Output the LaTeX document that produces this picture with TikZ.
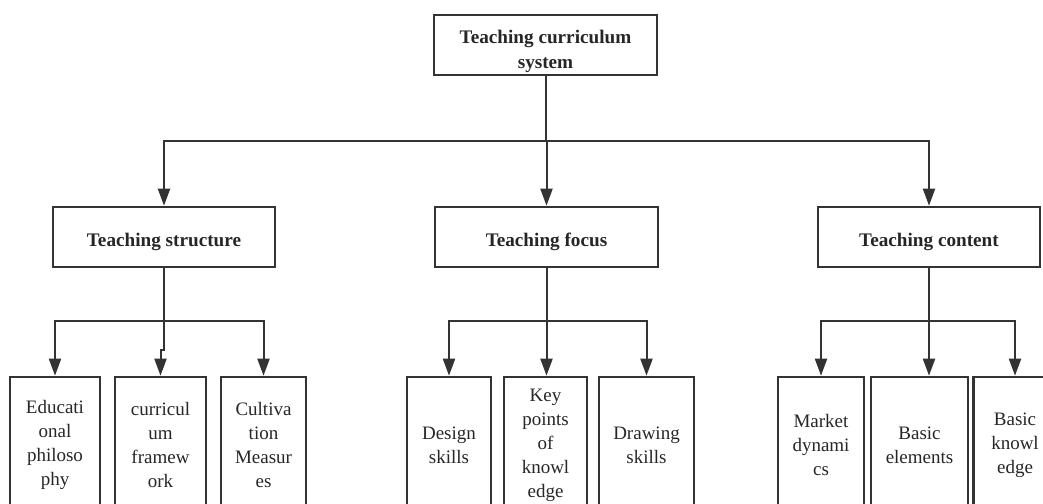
\documentclass[tikz,border=0pt]{standalone}
\usepackage{fontspec}
\setmainfont{Liberation Serif}
\usetikzlibrary{arrows.meta}
\definecolor{treeink}{HTML}{333333}
\definecolor{treetext}{HTML}{262626}
\tikzset{
  treebox/.style={draw=treeink, line width=1.3pt, align=center, inner sep=0pt,
    text=treetext, font=\fontsize{9.5}{12}\selectfont},
  headbox/.style={treebox, font=\fontsize{9.6}{12.4}\selectfont\bfseries,
    minimum height=30pt, text height=9.5pt, text depth=0pt},
  leafbox/.style={treebox, minimum height=68pt},
  treelink/.style={draw=treeink, line width=1pt,
    -{Triangle[length=8.5pt, width=6pt]}},
}

\begin{document}
\begin{tikzpicture}[x=0.5pt, y=0.5pt]
\useasboundingbox (0,0) rectangle (1043,503);
\clip (0,0) rectangle (1043,503);
% Root and the three branches of the curriculum system.
\node[headbox, minimum width=111.5pt, text height=23.8pt] (sys)
  at (545.5,458) {Teaching curriculum\\system};
\node[headbox, minimum width=111pt] (struct) at (164,266) {Teaching structure};
\node[headbox, minimum width=111.5pt] (focus) at (546.5,266) {Teaching focus};
\node[headbox, minimum width=111pt] (content) at (929,266) {Teaching content};
\coordinate (topbar) at (0,362);
\draw[treelink] (sys.south) -- (sys.south |- topbar) -| (struct.north);
\draw[treelink] (sys.south) -- (sys.south |- topbar) -| (focus.north);
\draw[treelink] (sys.south) -- (sys.south |- topbar) -| (content.north);

% Leaves: the bottom row runs past the lower edge of the frame.
\node[leafbox, minimum width=45pt] (philo) at (55,58)
  {Educati\\onal\\philoso\\phy};
\node[leafbox, minimum width=45.5pt] (frame) at (160.5,58)
  {curricul\\um\\framew\\ork};
\node[leafbox, minimum width=42.5pt] (measure) at (263.5,58)
  {Cultiva\\tion\\Measur\\es};
\node[leafbox, minimum width=42pt] (design) at (449,58) {Design\\skills};
\node[leafbox, minimum width=41.5pt] (keypts) at (545.5,58)
  {Key\\points\\of\\knowl\\edge};
\node[leafbox, minimum width=47.5pt] (drawing) at (646.5,58) {Drawing\\skills};
\node[leafbox, minimum width=43pt] (market) at (821,58)
  {Market\\dynami\\cs};
\node[leafbox, minimum width=48.5pt] (elements) at (919.5,58)
  {Basic\\elements};
\node[leafbox, minimum width=41.5pt] (knowl) at (1015,58)
  {Basic\\knowl\\edge};

\coordinate (subbar) at (0,182);
\coordinate (jogline) at (0,153);
\draw[treelink] (struct.south) -- (struct.south |- subbar) -| (philo.north);
\draw[treelink] (struct.south) -- (struct.south |- jogline) -| (frame.north);
\draw[treelink] (struct.south) -- (struct.south |- subbar) -| (measure.north);
\draw[treelink] (focus.south) -- (focus.south |- subbar) -| (design.north);
\draw[treelink] (focus.south) -- (keypts.north -| focus.south);
\draw[treelink] (focus.south) -- (focus.south |- subbar) -| (drawing.north);
\draw[treelink] (content.south) -- (content.south |- subbar) -| (market.north);
\draw[treelink] (content.south) -- (elements.north -| content.south);
\draw[treelink] (content.south) -- (content.south |- subbar) -| (knowl.north);
\end{tikzpicture}
\end{document}
